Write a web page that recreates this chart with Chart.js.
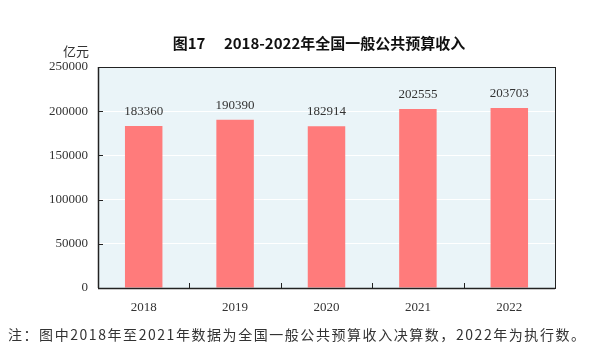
<!DOCTYPE html>
<html><head><meta charset="utf-8">
<script src="https://cdn.jsdelivr.net/npm/chart.js@4"></script>
<style>html,body{margin:0;padding:0;background:#fff}#wrap{width:592px;height:356px}</style>
</head><body><div id="wrap"><canvas id="c" width="592" height="356"></canvas></div>
<script>
const categories = ['2018', '2019', '2020', '2021', '2022'];
const revenue = [183360, 190390, 182914, 202555, 203703];
const yTicks = [0, 50000, 100000, 150000, 200000, 250000];
const titleText = '图17\u3000 2018-2022年全国一般公共预算收入';
const unitText = '亿元';
const noteText = '注：图中2018年至2021年数据为全国一般公共预算收入决算数，2022年为执行数。';

const serif = '"Liberation Serif", "DejaVu Serif", serif';
const cjk = '"Noto Sans CJK SC", sans-serif';

const decor = {
  id: 'decor',
  beforeDraw(chart) {
    const {ctx, chartArea: a} = chart;
    ctx.save();
    ctx.fillStyle = '#eaf4f8';
    ctx.fillRect(a.left, a.top, a.right - a.left, a.bottom - a.top);
    ctx.restore();
  },
  afterDatasetsDraw(chart) {
    const {ctx, chartArea: a, scales} = chart;
    ctx.save();
    // frame
    ctx.strokeStyle = '#222';
    ctx.lineWidth = 1;
    ctx.strokeRect(Math.round(a.left) + 0.5, Math.round(a.top) + 0.5, Math.round(a.right - a.left), Math.round(a.bottom - a.top));
    ctx.lineWidth = 1.5;
    ctx.beginPath();
    ctx.moveTo(a.left, Math.round(a.bottom) + 0.5); ctx.lineTo(a.right, Math.round(a.bottom) + 0.5);
    ctx.moveTo(Math.round(a.left) + 0.5, a.top); ctx.lineTo(Math.round(a.left) + 0.5, a.bottom);
    ctx.stroke();
    // inward ticks
    ctx.lineWidth = 1;
    ctx.beginPath();
    yTicks.forEach(v => {
      const y = Math.round(scales.y.getPixelForValue(v)) + 0.5;
      ctx.moveTo(a.left, y); ctx.lineTo(a.left + 5, y);
    });
    for (let i = 1; i < categories.length; i++) {
      const x = Math.round((scales.x.getPixelForValue(i - 1) + scales.x.getPixelForValue(i)) / 2) + 0.5;
      ctx.moveTo(x, a.bottom); ctx.lineTo(x, a.bottom - 5);
    }
    ctx.stroke();
    // value labels
    ctx.fillStyle = '#333';
    ctx.font = '13px ' + serif;
    ctx.textAlign = 'center';
    ctx.textBaseline = 'alphabetic';
    const meta = chart.getDatasetMeta(0);
    meta.data.forEach((bar, i) => {
      ctx.fillText(String(revenue[i]), bar.x, bar.y - 11);
    });
    // title
    ctx.fillStyle = '#111';
    ctx.font = 'bold 15px ' + cjk;
    ctx.textBaseline = 'middle';
    ctx.fillText(titleText, 319, 43);
    // unit
    ctx.font = '13px ' + cjk;
    ctx.fillStyle = '#333';
    ctx.textAlign = 'right';
    ctx.fillText(unitText, 89, 51);
    // note
    ctx.textAlign = 'left';
    ctx.font = '14px ' + cjk;
    const w = ctx.measureText(noteText).width;
    const n = [...noteText].length;
    ctx.letterSpacing = ((577 - w) / (n - 1)) + 'px';
    ctx.fillText(noteText, 8, 335);
    ctx.restore();
  }
};

new Chart(document.getElementById('c'), {
  type: 'bar',
  data: {
    labels: categories,
    datasets: [{
      data: revenue,
      backgroundColor: '#ff7b7b',
      borderWidth: 0,
      categoryPercentage: 1,
      barPercentage: 0.41
    }]
  },
  options: {
    responsive: false,
    animation: false,
    devicePixelRatio: 1,
    layout: {padding: {left: 0, right: 37, top: 67, bottom: 0}},
    plugins: {legend: {display: false}, tooltip: {enabled: false}},
    scales: {
      x: {
        grid: {display: false, drawTicks: false},
        border: {display: false},
        ticks: {font: {family: serif, size: 13}, color: '#333', padding: 12},
        afterFit(s) { s.height = 68; }
      },
      y: {
        min: 0, max: 250000,
        afterBuildTicks(s) { s.ticks = yTicks.map(v => ({value: v})); },
        grid: {color: '#ffffff', lineWidth: 1, drawTicks: false},
        border: {display: false},
        ticks: {font: {family: serif, size: 13}, color: '#333', padding: 10, callback: v => String(v)},
        afterFit(s) { s.width = 98; }
      }
    }
  },
  plugins: [decor]
});
</script></body></html>
